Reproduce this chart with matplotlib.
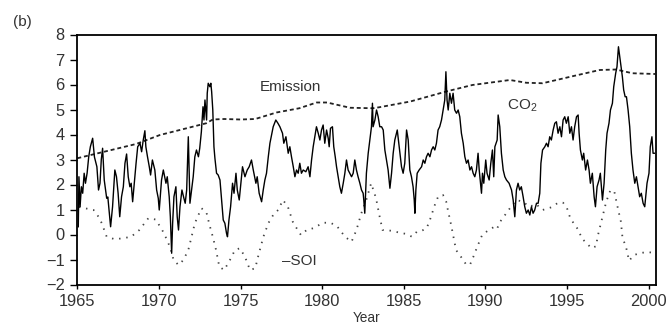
import matplotlib
matplotlib.use("Agg")
import matplotlib.pyplot as plt
import numpy as np

plt.rcParams['font.family'] = ['Liberation Sans', 'DejaVu Sans']
plt.rcParams['mathtext.fontset'] = 'custom'
plt.rcParams['mathtext.rm'] = 'Liberation Sans'
plt.rcParams['mathtext.it'] = 'Liberation Sans'

# ---- data ----
emis_year = [1965.0, 1968.6, 1970.06, 1971.7, 1972.9, 1973.3, 1974.0, 1975.0, 1975.9,
             1977.2, 1978.6, 1979.66, 1980.3, 1981.7, 1983.1, 1983.5, 1985.4, 1987.6,
             1989.2, 1991.5, 1992.5, 1993.5, 1995.4, 1997.0, 1998.0, 1999.0, 2000.4]
emis_val = [3.05, 3.62, 3.98, 4.25, 4.45, 4.6, 4.62, 4.6, 4.62,
            4.88, 5.05, 5.28, 5.28, 5.07, 5.05, 5.09, 5.32, 5.72,
            5.98, 6.18, 6.07, 6.05, 6.34, 6.58, 6.6, 6.45, 6.42]

soi_year = [1965.1, 1965.47, 1966.0, 1966.3, 1966.5, 1966.8, 1967.3, 1967.8, 1968.3, 1968.8,
            1969.35, 1969.8, 1970.2, 1970.5, 1970.7, 1970.9, 1971.2, 1971.5, 1971.8, 1972.0,
            1972.2, 1972.6, 1972.9, 1973.1, 1973.3, 1973.5, 1973.7, 1974.0, 1974.35, 1974.66,
            1974.96, 1975.27, 1975.58, 1975.9, 1976.1, 1976.4, 1976.7, 1977.0, 1977.3, 1977.6,
            1977.9, 1978.2, 1978.5, 1978.7, 1979.05, 1979.45, 1980.06, 1980.5, 1980.9, 1981.4,
            1981.8, 1982.1, 1982.4, 1982.7, 1983.0, 1983.3, 1983.5, 1983.7, 1984.25, 1984.76,
            1985.17, 1985.5, 1985.8, 1986.1, 1986.4, 1986.6, 1986.9, 1987.1, 1987.4, 1987.6,
            1987.7, 1987.9, 1988.0, 1988.2, 1988.5, 1988.8, 1989.05, 1989.25, 1989.5, 1989.8,
            1990.2, 1990.5, 1990.7, 1990.9, 1991.2, 1991.5, 1991.9, 1992.3, 1992.7, 1993.1,
            1993.5, 1994.05, 1994.45, 1994.76, 1995.0, 1995.17, 1995.4, 1995.7, 1995.9, 1996.2,
            1996.5, 1996.8, 1996.85, 1997.0, 1997.2, 1997.4, 1997.66, 1997.9, 1998.07, 1998.3,
            1998.4, 1998.6, 1998.7, 1998.8, 1999.1, 1999.46, 1999.87, 2000.3]
soi_val = [1.1, 1.05, 0.98, 0.71, 0.45, -0.09, -0.19, -0.15, -0.09, 0.18,
           0.65, 0.6, 0.18, -0.22, -0.55, -1.02, -1.22, -1.02, -0.62, -0.09,
           0.45, 1.05, 0.91, 0.38, -0.09, -0.62, -1.29, -1.42, -1.02, -0.62,
           -0.55, -0.89, -1.42, -1.35, -0.82, -0.09, 0.45, 0.78, 0.98, 1.38,
           1.11, 0.51, 0.18, -0.02, 0.18, 0.25, 0.47, 0.47, 0.34, -0.09,
           -0.29, 0.18, 0.85, 1.38, 2.05, 1.45, 0.78, 0.18, 0.15, 0.07,
           0.02, -0.09, 0.11, 0.15, 0.25, 0.58, 1.18, 1.51, 1.58, 1.31,
           0.98, 0.38, 0.05, -0.62, -0.89, -1.18, -1.22, -0.91, -0.49, -0.02,
           0.18, 0.29, 0.21, 0.51, 0.78, 1.05, 1.38, 1.31, 1.11, 1.22,
           0.98, 1.09, 1.27, 1.27, 1.05, 0.71, 0.45, 0.18, -0.15, -0.35,
           -0.55, -0.46, -0.15, 0.25, 0.78, 1.31, 1.78, 1.71, 1.18, 0.51,
           -0.15, -0.46, -0.75, -1.05, -0.82, -0.75, -0.70, -0.73]

co2_year = [1965.06, 1965.1, 1965.17, 1965.25, 1965.33, 1965.42, 1965.5, 1965.6, 1965.7, 1965.8,
            1965.94, 1966.05, 1966.2, 1966.3, 1966.39, 1966.47, 1966.55, 1966.65, 1966.8, 1966.87,
            1966.96, 1967.04, 1967.16, 1967.3, 1967.4, 1967.5, 1967.6, 1967.71, 1967.82, 1967.92,
            1968.02, 1968.12, 1968.22, 1968.3, 1968.39, 1968.47, 1968.6, 1968.7, 1968.84, 1968.94,
            1969.04, 1969.14, 1969.2, 1969.3, 1969.41, 1969.49, 1969.6, 1969.75, 1969.86, 1969.96,
            1970.02, 1970.16, 1970.27, 1970.43, 1970.51, 1970.63, 1970.7, 1970.78, 1970.84, 1970.92,
            1971.04, 1971.12, 1971.2, 1971.29, 1971.41, 1971.53, 1971.61, 1971.7, 1971.8, 1971.9,
            1972.0, 1972.1, 1972.2, 1972.3, 1972.42, 1972.5, 1972.6, 1972.7, 1972.76, 1972.82,
            1972.92, 1972.96, 1973.02, 1973.12, 1973.18, 1973.23, 1973.3, 1973.37, 1973.43, 1973.53,
            1973.63, 1973.74, 1973.84, 1973.94, 1974.04, 1974.14, 1974.2, 1974.29, 1974.39, 1974.51,
            1974.6, 1974.72, 1974.8, 1974.92, 1975.0, 1975.12, 1975.27, 1975.41, 1975.53, 1975.67,
            1975.78, 1975.94, 1976.02, 1976.14, 1976.29, 1976.39, 1976.49, 1976.59, 1976.7, 1976.8,
            1977.0, 1977.16, 1977.29, 1977.41, 1977.57, 1977.65, 1977.78, 1977.92, 1978.02, 1978.12,
            1978.23, 1978.33, 1978.43, 1978.53, 1978.63, 1978.73, 1978.84, 1979.0, 1979.14, 1979.25,
            1979.35, 1979.45, 1979.55, 1979.65, 1979.76, 1979.86, 1979.96, 1980.06, 1980.16, 1980.27,
            1980.37, 1980.43, 1980.51, 1980.63, 1980.71, 1980.8, 1980.88, 1980.98, 1981.08, 1981.18,
            1981.29, 1981.39, 1981.49, 1981.59, 1981.69, 1981.8, 1981.9, 1982.0, 1982.1, 1982.2,
            1982.31, 1982.41, 1982.51, 1982.55, 1982.61, 1982.71, 1982.82, 1982.92, 1983.02, 1983.08,
            1983.12, 1983.23, 1983.33, 1983.43, 1983.53, 1983.64, 1983.74, 1983.84, 1983.94, 1984.04,
            1984.15, 1984.25, 1984.35, 1984.45, 1984.6, 1984.72, 1984.86, 1984.96, 1985.06, 1985.17,
            1985.27, 1985.37, 1985.47, 1985.57, 1985.64, 1985.68, 1985.74, 1985.82, 1985.94, 1986.09,
            1986.19, 1986.29, 1986.39, 1986.49, 1986.6, 1986.7, 1986.8, 1986.9, 1987.0, 1987.1,
            1987.2, 1987.31, 1987.41, 1987.51, 1987.58, 1987.65, 1987.72, 1987.82, 1987.92, 1988.02,
            1988.12, 1988.23, 1988.33, 1988.43, 1988.53, 1988.64, 1988.74, 1988.84, 1988.94, 1989.05,
            1989.15, 1989.25, 1989.35, 1989.45, 1989.55, 1989.62, 1989.7, 1989.76, 1989.82, 1989.9,
            1990.02, 1990.1, 1990.23, 1990.33, 1990.43, 1990.51, 1990.58, 1990.72, 1990.78, 1990.88,
            1990.98, 1991.09, 1991.19, 1991.29, 1991.45, 1991.6, 1991.7, 1991.8, 1991.9, 1992.0,
            1992.1, 1992.2, 1992.31, 1992.41, 1992.51, 1992.62, 1992.72, 1992.82, 1992.92, 1993.02,
            1993.13, 1993.23, 1993.33, 1993.4, 1993.5, 1993.64, 1993.74, 1993.84, 1993.94, 1994.04,
            1994.15, 1994.25, 1994.35, 1994.45, 1994.56, 1994.66, 1994.76, 1994.86, 1994.96, 1995.07,
            1995.17, 1995.27, 1995.37, 1995.47, 1995.58, 1995.68, 1995.74, 1995.82, 1995.94, 1996.02,
            1996.14, 1996.25, 1996.35, 1996.43, 1996.55, 1996.66, 1996.74, 1996.84, 1996.96, 1997.04,
            1997.17, 1997.27, 1997.37, 1997.45, 1997.57, 1997.66, 1997.78, 1997.86, 1997.98, 1998.06,
            1998.15, 1998.23, 1998.31, 1998.39, 1998.47, 1998.56, 1998.64, 1998.74, 1998.84, 1998.94,
            1999.04, 1999.15, 1999.25, 1999.35, 1999.45, 1999.55, 1999.66, 1999.76, 1999.82, 1999.9,
            2000.02, 2000.1, 2000.2, 2000.27, 2000.35]
co2_rate = [0.31, 2.31, 1.11, 1.91, 1.65, 2.45, 2.05, 2.45, 3.11, 3.51,
            3.85, 3.1, 2.71, 1.78, 2.05, 3.0, 3.45, 2.18, 1.45, 1.5,
            0.85, 0.31, 1.11, 2.58, 2.31, 1.65, 0.71, 1.51, 1.91, 2.85,
            3.22, 2.31, 1.91, 2.05, 1.31, 1.91, 2.85, 3.51, 3.65, 3.31,
            3.78, 4.15, 3.51, 3.11, 2.71, 2.38, 2.98, 2.58, 1.78, 1.45,
            0.98, 2.18, 2.58, 2.05, 2.31, 1.51, 0.71, -0.75, 0.45, 1.51,
            1.91, 0.71, 0.18, 1.11, 1.78, 1.45, 1.25, 1.78, 3.91, 1.25,
            1.78, 2.31, 3.11, 3.38, 3.11, 3.45, 4.11, 5.11, 4.58, 5.38,
            4.58, 5.65, 6.05, 5.91, 6.05, 5.71, 4.98, 3.51, 3.05, 2.45,
            2.38, 2.18, 1.38, 0.58, 0.45, 0.05, -0.09, 0.58, 1.11, 2.05,
            1.65, 2.45, 1.78, 1.38, 1.91, 2.71, 2.31, 2.58, 2.71, 2.98,
            2.58, 2.05, 2.31, 1.65, 1.31, 1.78, 2.18, 2.45, 3.11, 3.65,
            4.31, 4.58, 4.45, 4.31, 4.05, 3.65, 3.91, 3.25, 3.51, 3.11,
            2.71, 2.31, 2.58, 2.45, 2.85, 2.45, 2.58, 2.51, 2.71, 2.31,
            2.98, 3.51, 3.91, 4.31, 4.05, 3.78, 4.18, 4.38, 3.65, 4.18,
            3.85, 3.51, 4.25, 4.31, 3.51, 3.11, 2.71, 2.31, 1.91, 1.65,
            2.05, 2.45, 2.98, 2.58, 2.45, 2.31, 2.45, 2.98, 2.58, 2.31,
            2.05, 1.78, 1.65, 1.38, 0.85, 2.45, 3.25, 3.78, 4.31, 5.25,
            4.31, 4.58, 4.98, 4.71, 4.31, 4.31, 4.18, 3.38, 2.98, 2.58,
            1.85, 2.45, 3.25, 3.78, 4.18, 3.51, 2.71, 2.45, 2.85, 4.18,
            3.78, 2.58, 2.31, 1.91, 1.38, 0.85, 1.78, 2.45, 2.58, 2.71,
            2.98, 2.85, 3.11, 3.25, 3.11, 3.38, 3.51, 3.38, 3.65, 4.18,
            4.31, 4.58, 4.98, 5.38, 6.51, 5.38, 4.98, 5.65, 5.25, 5.65,
            4.98, 4.85, 4.98, 4.71, 4.05, 3.65, 3.11, 2.85, 2.98, 2.58,
            2.71, 2.45, 2.31, 2.58, 3.25, 2.58, 2.05, 1.65, 2.45, 2.05,
            2.98, 2.45, 2.18, 2.85, 3.38, 2.31, 3.51, 3.78, 4.78, 4.31,
            3.25, 2.58, 2.31, 2.18, 2.05, 1.78, 1.38, 0.71, 1.78, 2.05,
            1.78, 1.91, 1.51, 1.11, 0.85, 0.98, 0.78, 1.11, 0.85, 0.98,
            1.25, 1.25, 1.65, 2.85, 3.38, 3.51, 3.65, 3.51, 3.91, 3.78,
            4.18, 4.45, 4.51, 4.05, 4.31, 3.91, 4.58, 4.71, 4.45, 4.71,
            4.05, 4.31, 3.78, 4.31, 4.71, 4.78, 4.05, 3.38, 2.98, 3.25,
            2.58, 2.98, 2.58, 2.05, 2.45, 1.51, 1.11, 1.91, 2.18, 2.45,
            1.38, 2.05, 3.38, 4.05, 4.45, 4.98, 5.25, 5.91, 6.45, 6.71,
            7.51, 7.11, 6.71, 6.31, 5.78, 5.51, 5.51, 4.98, 4.31, 3.25,
            2.58, 2.05, 2.31, 1.91, 1.51, 1.65, 1.25, 1.11, 1.51, 2.05,
            2.45, 3.51, 3.91, 3.25, 3.25]

x_ticks = [1965, 1970, 1975, 1980, 1985, 1990, 1995, 2000]
y_ticks = [-2, -1, 0, 1, 2, 3, 4, 5, 6, 7, 8]

# ---- figure ----
fig = plt.figure(figsize=(6.67, 3.27), dpi=100)
ax = fig.add_axes([77.3/667, 1-284.5/327, (656-77.3)/667, (284.5-34.5)/327])

ax.plot(co2_year, co2_rate, color='black', lw=1.0, zorder=3)
ax.plot(emis_year, emis_val, color='#222222', lw=1.3, ls=(0, (2.2, 1.6)), zorder=2)
ax.plot(soi_year, soi_val, color='#444444', lw=1.3, ls=(0, (0.8, 3.2)), zorder=2)

ax.set_xlim(1965, 2000.45)
ax.set_ylim(-2, 8)
ax.set_xticks(x_ticks)
ax.set_yticks(y_ticks)
ax.tick_params(axis='y', direction='out', length=5, width=1.0, pad=4,
               labelsize=11.8, labelcolor='#333333')
ax.tick_params(axis='x', direction='out', length=3, width=1.0, pad=4,
               labelsize=11.8, labelcolor='#333333')
for s in ax.spines.values():
    s.set_linewidth(1.3)
    s.set_color('black')

ax.set_xlabel('Year', fontsize=9.8, color='#333333', labelpad=1)

ax.text(1976.18, 5.75, 'Emission', fontsize=11, color='#333333', ha='left', va='baseline')
ax.text(1991.3, 4.98, r'CO$_{\mathrm{2}}$', fontsize=11, color='#333333', ha='left', va='baseline')
ax.text(1977.51, -1.22, '\u2013SOI', fontsize=11, color='#333333', ha='left', va='baseline')

fig.text(13/667, 1-22/327, '(b)', fontsize=11, color='#333333', ha='left', va='center')

fig.savefig('out.png', dpi=100)
